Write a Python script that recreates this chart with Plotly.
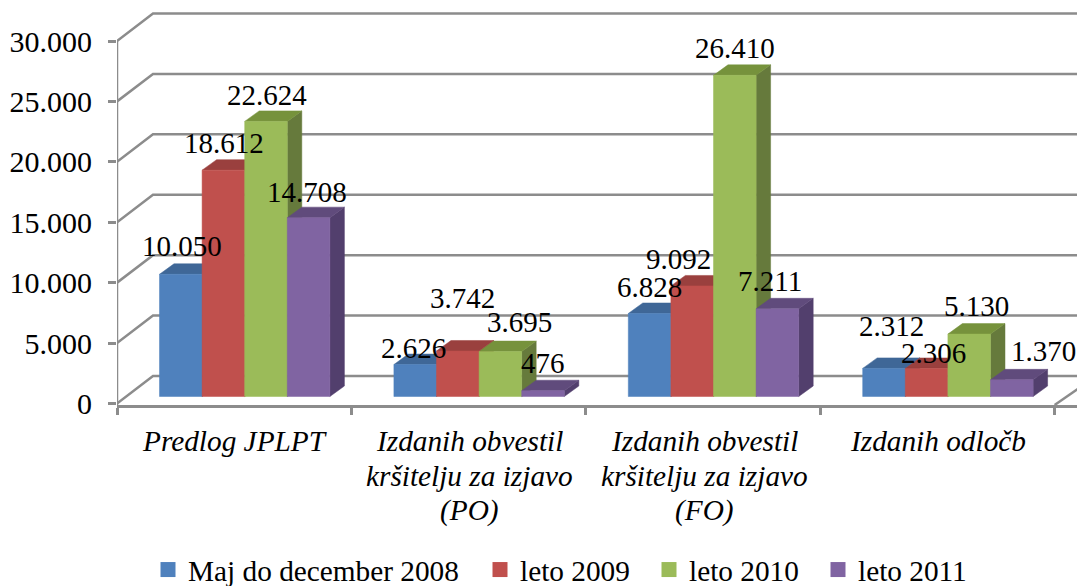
import plotly.graph_objects as go

category_lines = [["Predlog JPLPT"],
                  ["Izdanih obvestil", "kršitelju za izjavo", "(PO)"],
                  ["Izdanih obvestil", "kršitelju za izjavo", "(FO)"],
                  ["Izdanih odločb"]]
series_names = ["Maj do december 2008", "leto 2009", "leto 2010", "leto 2011"]
maj_2008 = [10050, 2626, 6828, 2312]
leto_2009 = [18612, 3742, 9092, 2306]
leto_2010 = [22624, 3695, 26410, 5130]
leto_2011 = [14708, 476, 7211, 1370]
series_values = [maj_2008, leto_2009, leto_2010, leto_2011]
y_ticks = [0, 5000, 10000, 15000, 20000, 25000, 30000]
y_tick_labels = ["0", "5.000", "10.000", "15.000", "20.000", "25.000", "30.000"]

# hand-placed label offsets (px from the top centre of each bar's front face), per series
label_dx = [[1.5, -2, 0, 7], [1, 5, -14, 7], [0.5, 19, 0, 7], [-1.5, 0, -7, 32]]
label_dy = [[28, 17, 26.5, 42], [27, 53, 27, 15], [26, 30, 27, 28], [25.6, 28, 28, 29]]

FRONT = ["#4F81BD", "#C0504D", "#9BBB59", "#8064A2"]
SIDE = ["#3A5F8C", "#8E3B39", "#667A3C", "#523F6D"]
TOP = ["#3F6797", "#9A403E", "#76923C", "#604B7C"]
GRID = "#8C8C8C"
FONT = "Liberation Serif"

# the page body adds an 8 px margin; the figure runs past the window's lower edge
# so that the legend does not push the plot area up
PAGE = 8
W, H = 1085, 620
BOTTOM = 405 - PAGE
L, T, B = 117 - PAGE, 0, H - BOTTOM
PX_X = 234.4          # px per category
PX_Y = 362.5 / 30000  # px per value unit
x_min = -0.5
x_max = x_min + (W - L) / PX_X
y_min = -1.5 / PX_Y
y_max = (403.5 - PAGE - T) / PX_Y

wall_dx, wall_dy = 36 / PX_X, 27.5 / PX_Y     # depth of the floor
bar_dx, bar_dy = 14.5 / PX_X, 10.5 / PX_Y     # depth of a bar
front_dx, front_dy = 10.5 / PX_X, 7 / PX_Y    # bar front from the chart's front plane
bar_w = 42.6 / PX_X
persp = 1.0064

fig = go.Figure()


def poly(xs, ys, color):
    fig.add_trace(go.Scatter(x=xs + xs[:1], y=ys + ys[:1], mode="lines", fill="toself",
                             fillcolor=color, line=dict(width=0.5, color=color),
                             showlegend=False, hoverinfo="skip"))


def stroke(xs, ys):
    fig.add_trace(go.Scatter(x=xs, y=ys, mode="lines", line=dict(color=GRID, width=2.5),
                             showlegend=False, hoverinfo="skip", cliponaxis=False))


# walls: gridlines, floor, axis
for v in y_ticks:
    stroke([x_min, x_min + wall_dx, x_max + 0.2], [v, v + wall_dy, v + wall_dy])
stroke([x_min, x_min], [y_min, y_ticks[-1]])
n = len(category_lines)
stroke([x_min + n, x_min + n + wall_dx], [y_min, y_min + wall_dy * 0.9])

# bars, left to right so that each front covers its neighbour's side
annotations = []
for c in range(n):
    for s in range(len(series_values)):
        v = series_values[s][c]
        x0 = c + front_dx + (s - 2) * bar_w
        x1 = x0 + bar_w
        y0 = front_dy
        y1 = front_dy + v * persp
        poly([x1, x1 + bar_dx, x1 + bar_dx, x1], [y0, y0 + bar_dy, y1 + bar_dy, y1], SIDE[s])
        poly([x0, x1, x1 + bar_dx, x0 + bar_dx], [y1, y1, y1 + bar_dy, y1 + bar_dy], TOP[s])
        poly([x0, x1, x1, x0], [y0, y0, y1, y1], FRONT[s])
        annotations.append(dict(x=(x0 + x1) / 2, y=y1, xref="x", yref="y",
                                text=f"{v:,}".replace(",", "."), showarrow=False,
                                xshift=label_dx[s][c], yshift=label_dy[s][c],
                                xanchor="center", yanchor="middle",
                                font=dict(family=FONT, size=29, color="black")))

# category labels, one annotation per line for the tighter line spacing
for c, lines in enumerate(category_lines):
    for k, line in enumerate(lines):
        annotations.append(dict(x=c, y=y_min, xref="x", yref="y", text=f"<i>{line}</i>",
                                showarrow=False, xanchor="center", yanchor="middle",
                                yshift=-(36 + 34.5 * k), xshift=1,
                                font=dict(family=FONT, size=29.3, color="black")))

# legend entries, each in its own legend so that the spacing can be matched
legend_centres = [171, 503, 672, 841]
legend_layout = {}
for s, name in enumerate(series_names):
    key = "legend" if s == 0 else f"legend{s + 1}"
    fig.add_trace(go.Scatter(x=[None], y=[None], mode="markers", name=name, legend=key,
                             marker=dict(symbol="square", size=15, color=FRONT[s])))
    legend_layout[key] = dict(orientation="h",
                              x=(legend_centres[s] - 23 - PAGE - L) / (W - L),
                              y=(H - B - (570 - PAGE)) / (H - B - T),
                              xanchor="left", yanchor="middle",
                              font=dict(family=FONT, size=29.3),
                              bgcolor="rgba(0,0,0,0)")

fig.update_layout(
    width=W, height=H, autosize=False,
    margin=dict(l=L, r=0, t=T, b=B),
    paper_bgcolor="white", plot_bgcolor="white",
    font=dict(family=FONT, size=29, color="black"),
    annotations=annotations,
    xaxis=dict(range=[x_min, x_max], tickmode="array",
               tickvals=[x_min + i for i in range(n + 1)],
               ticktext=[""] * (n + 1), ticks="outside", ticklen=7, tickwidth=2.5,
               tickcolor=GRID, showgrid=False, zeroline=False,
               showline=True, linecolor=GRID, linewidth=2.5),
    yaxis=dict(range=[y_min, y_max], tickmode="array", tickvals=y_ticks,
               ticktext=y_tick_labels, ticks="outside", ticklen=8, tickwidth=2.5,
               tickcolor=GRID, showgrid=False, zeroline=False, showline=False,
               ticklabelstandoff=10, tickfont=dict(family=FONT, size=30)),
    **legend_layout,
)

fig.write_html("out.html")
